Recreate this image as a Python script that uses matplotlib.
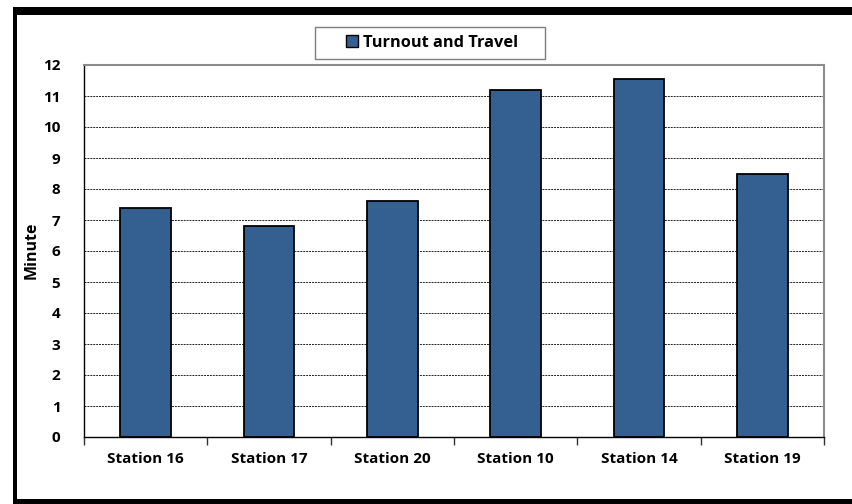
import matplotlib
matplotlib.use("Agg")
import matplotlib.pyplot as plt
from matplotlib.patches import Rectangle, Patch

stations = ["Station 16", "Station 17", "Station 20", "Station 10", "Station 14", "Station 19"]
turnout_travel = [7.4, 6.8, 7.6, 11.2, 11.55, 8.5]
yticks = list(range(0, 13))

plt.rcParams["font.family"] = ["Open Sans", "DejaVu Sans"]
plt.rcParams["font.weight"] = "bold"

W, H = 852, 504
fig = plt.figure(figsize=(W / 100, H / 100), dpi=100)
fig.patch.set_facecolor("white")


def px_box(x0, y0, x1, y1, **kw):
    fig.add_artist(Rectangle((x0 / W, 1 - y1 / H), (x1 - x0) / W, (y1 - y0) / H,
                             transform=fig.transFigure, **kw))


# outer black frame
px_box(13, 7, W, 15, facecolor="black", edgecolor="none", zorder=10)
px_box(13, 7, 17, 502, facecolor="black", edgecolor="none", zorder=10)
px_box(13, 499, W, H, facecolor="black", edgecolor="none", zorder=10)

left, right, top, bottom = 84, 824, 65, 437
ax = fig.add_axes([left / W, 1 - bottom / H, (right - left) / W, (bottom - top) / H])

x = list(range(len(stations)))
ax.bar(x, turnout_travel, width=0.41, color="#345F91", edgecolor="black",
       linewidth=1.3, zorder=3)

ax.set_xlim(-0.5, len(stations) - 0.5)
ax.set_ylim(0, 12)
ax.set_yticks(yticks)
ax.set_yticklabels([str(v) for v in yticks], fontsize=11, fontweight="bold")
ax.tick_params(axis="y", length=0, pad=17)
ax.yaxis.grid(True, linestyle=(0, (2, 1)), color="#222222", linewidth=0.7)
ax.set_axisbelow(True)

ax.set_xticks(x)
ax.set_xticklabels(stations, fontsize=11, fontweight="bold")
ax.set_xticks([i + 0.5 for i in range(-1, len(stations))], minor=True)
ax.tick_params(axis="x", which="major", length=0, pad=11)
ax.tick_params(axis="x", which="minor", length=6, width=1, color="#333333", direction="out")

ax.spines["left"].set_color("black")
ax.spines["bottom"].set_color("black")
ax.spines["left"].set_linewidth(1.0)
ax.spines["bottom"].set_linewidth(1.0)
ax.spines["top"].set_color("#8c8c8c")
ax.spines["right"].set_color("#8c8c8c")
ax.spines["top"].set_linewidth(1.5)
ax.spines["right"].set_linewidth(1.5)

ax.set_ylabel("Minute", fontsize=11.5, fontweight="bold")
ax.yaxis.set_label_coords((40 - left) / (right - left), (bottom - 250) / (bottom - top))

# legend box
px_box(315, 27, 545, 59, facecolor="white", edgecolor="#7f7f7f", linewidth=1.0, zorder=5)
handle = Patch(facecolor="#345F91", edgecolor="black", linewidth=1.0)
leg = fig.legend([handle], ["Turnout and Travel"], loc="center",
                 bbox_to_anchor=(432 / W, 1 - 43 / H), frameon=False,
                 prop={"size": 11.8, "weight": "bold"}, handlelength=0.75,
                 handleheight=0.75, handletextpad=0.3, borderpad=0,
                 borderaxespad=0)
leg.set_zorder(6)

fig.savefig("out.png", dpi=100)
